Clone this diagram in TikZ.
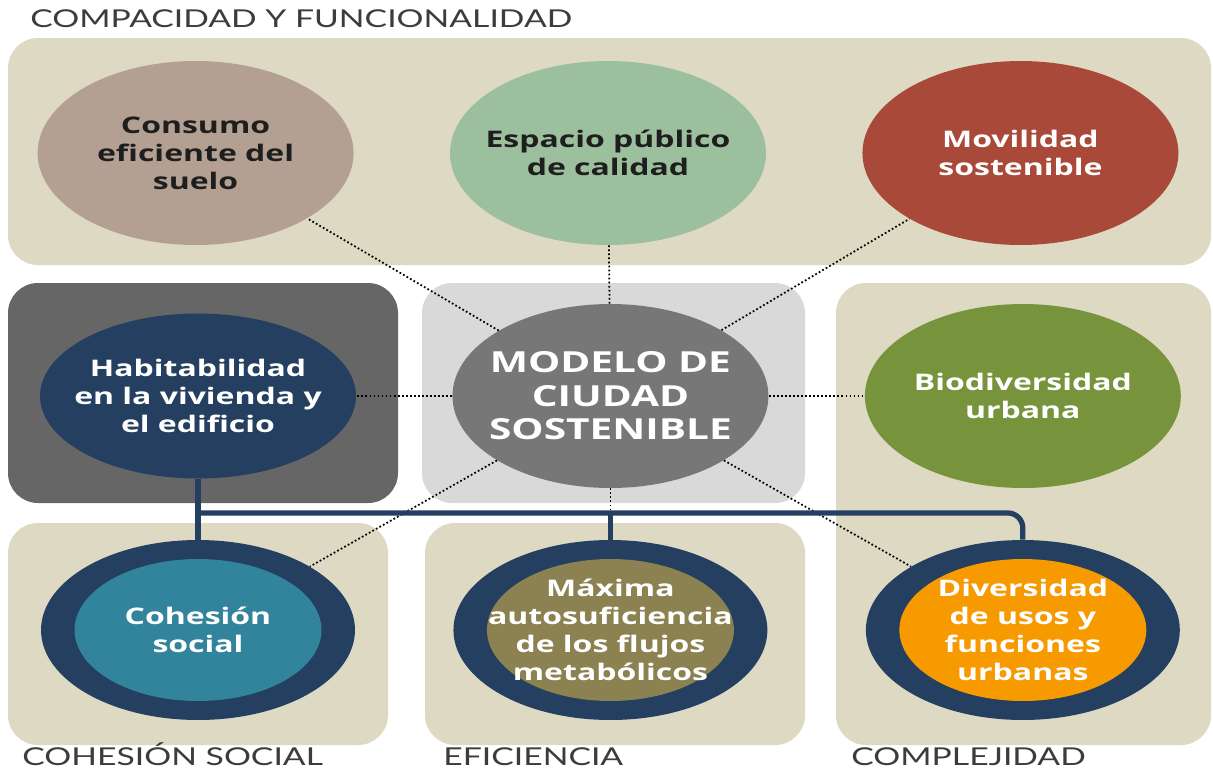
\documentclass[tikz,border=0pt]{standalone}
\usepackage{fontspec}
\usetikzlibrary{shapes.geometric,positioning}

\newfontfamily\temafont[FakeStretch=1.4]{Open Sans}
\newfontfamily\rotulofont[FakeStretch=1.37]{Lato}

\definecolor{beis}{HTML}{DDD9C3}
\definecolor{grisosc}{HTML}{666666}
\definecolor{grisclaro}{HTML}{D9D9D9}
\definecolor{azul}{HTML}{243F60}
\definecolor{tierra}{HTML}{B3A092}
\definecolor{verdeagua}{HTML}{9CBF9D}
\definecolor{teja}{HTML}{A8493A}
\definecolor{centrogris}{HTML}{777777}
\definecolor{oliva}{HTML}{77933C}
\definecolor{petroleo}{HTML}{31849B}
\definecolor{caqui}{HTML}{8C8150}
\definecolor{naranja}{HTML}{F79A00}
\definecolor{tinta}{HTML}{1E1E1E}
\definecolor{grisrotulo}{HTML}{3C3C3C}

\tikzset{node distance=8.25cm, % distance between the centres of two circles in a row
        zona/.style={rounded corners=0.6cm}, % background boxes
        tema/.style={ % every coloured circle
            ellipse, inner sep=0pt,
            minimum width=6.32cm, minimum height=3.68cm},
        anillo/.style={ % dark ring round the lower circles
            ellipse, inner sep=0pt, fill=azul,
            minimum width=6.28cm, minimum height=3.6cm},
        nucleo/.style={ellipse, inner sep=0pt,
            minimum width=4.94cm, minimum height=2.84cm},
        texto/.style={align=center, text=white, inner sep=0pt,
            font=\temafont\bfseries\fontsize{13}{16}\selectfont},
        rotulo/.style={anchor=base west, inner sep=0pt, text=grisrotulo,
            font=\rotulofont\fontsize{14}{16}\selectfont},
        every edge/.style={ % dotted links from the centre
            draw, line width=1pt, dash pattern=on 1pt off 1.3pt},
        bus/.style={draw=azul, line width=3pt, rounded corners=0.3cm}
        }

\begin{document}
\begin{tikzpicture}[x=0.02cm, y=-0.02cm]
    \useasboundingbox (0,0) rectangle (1213,771);

    % background boxes
    \fill[zona, beis] (8,38) rectangle (1211,265);
    \fill[zona, grisosc] (8,283) rectangle (398,503);
    \fill[zona, grisclaro] (422,283) rectangle (805,503);
    \fill[zona, beis] (836,283) rectangle (1211,745);
    \fill[zona, beis] (8,523) rectangle (388,745);
    \fill[zona, beis] (425,523) rectangle (805,745);

    \node[rotulo] (compacidad) at (30,27) {COMPACIDAD Y FUNCIONALIDAD};
    \node[rotulo] (cohesion) at (22,765) {COHESIÓN SOCIAL};
    \node[rotulo] (eficiencia) at (443,765) {EFICIENCIA};
    \node[rotulo] (complejidad) at (851,765) {COMPLEJIDAD};

    % top row
    \node[tema, fill=verdeagua, label={[texto, text=tinta]center:Espacio público\\de calidad}] (esp) at (608,153) {};
    \node[tema, fill=tierra, label={[texto, text=tinta]center:Consumo\\eficiente del\\suelo}] (cons) [left of=esp] {};
    \node[tema, fill=teja, label={[texto]center:Movilidad\\sostenible}] (mov) [right of=esp] {};

    % middle row
    \node[tema, fill=azul, minimum height=3.3cm, label={[texto]center:Habitabilidad\\en la vivienda y\\el edificio}] (hab) at (198,396) {};
    \node[tema, fill=centrogris, label={[texto, font=\temafont\bfseries\fontsize{16.5}{19}\selectfont]center:MODELO DE\\CIUDAD\\SOSTENIBLE}] (centro) [right of=hab] {};
    \node[tema, fill=oliva, label={[texto]center:Biodiversidad\\urbana}] (bio) [right of=centro] {};

    % bottom row
    \node[anillo] (cohA) at (198,630) {};
    \node[anillo] (maxA) [right of=cohA] {};
    \node[anillo] (divA) [right of=maxA] {};
    \node[nucleo, fill=petroleo, label={[texto]center:Cohesión\\social}] (coh) at (cohA) {};
    \node[nucleo, fill=caqui, label={[texto]center:Máxima\\autosuficiencia\\de los flujos\\metabólicos}] (max) at (maxA) {};
    \node[nucleo, fill=naranja, label={[texto]center:Diversidad\\de usos y\\funciones\\urbanas}] (div) at (divA) {};

    \draw
        (centro)
            edge (cons)
            edge (esp)
            edge (mov)
            edge (hab)
            edge (bio)
            edge (cohA)
            edge (maxA)
            edge (divA);

    \coordinate (barra) at (0,513);
    \draw[bus] (hab) -- (cohA);
    \draw[bus] (hab.south |- barra) -- (divA.north |- barra) -- (divA);
    \draw[bus] (maxA.north |- barra) -- (maxA);
\end{tikzpicture}
\end{document}
